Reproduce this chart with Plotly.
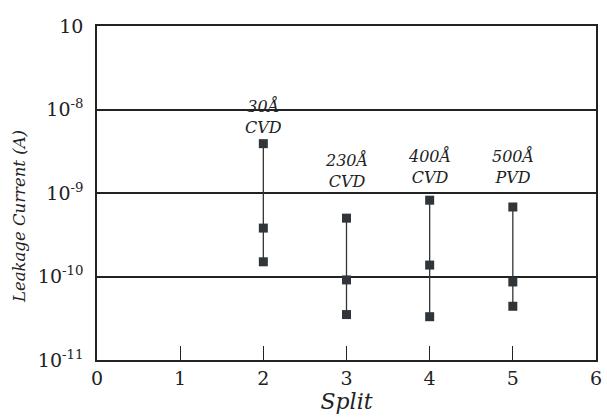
import numpy as np
import plotly.graph_objects as go

# Leakage current per split (A): high, middle and low readings
splits = [2, 3, 4, 5]
i_high = [3.9e-9, 5.0e-10, 8.2e-10, 6.8e-10]
i_mid = [3.8e-10, 9.1e-11, 1.37e-10, 8.6e-11]
i_low = [1.5e-10, 3.5e-11, 3.3e-11, 4.4e-11]
split_labels = ["30Å<br>CVD", "230Å<br>CVD", "400Å<br>CVD", "500Å<br>PVD"]
label_y = [0.730, 0.566, 0.578, 0.578]

y_tickvals = [1e-11, 1e-10, 1e-9, 1e-8, 1e-7]
y_ticktext = ["10<sup>-11</sup>", "10<sup>-10</sup>", "10<sup>-9</sup>", "10<sup>-8</sup>", "10"]
x_tickvals = [0, 1, 2, 3, 4, 5, 6]

FONT = "DejaVu Serif"
INK = "#222222"

fig = go.Figure()

for x, hi, mid, lo in zip(splits, i_high, i_mid, i_low):
    fig.add_trace(go.Scatter(
        x=[x, x, x], y=[hi, mid, lo],
        mode="lines+markers",
        line=dict(color="#333333", width=1.3),
        marker=dict(symbol="square", size=9, color="#2f3538",
                    line=dict(width=0)),
        showlegend=False,
    ))

for x, txt, yp in zip(splits, split_labels, label_y):
    fig.add_annotation(
        x=x, xref="x", y=yp, yref="paper",
        text=txt, showarrow=False,
        font=dict(family=FONT, size=16, color=INK, style="italic"),
        align="center", yanchor="middle",
    )

# vertical axis title
fig.add_annotation(
    x=-0.155, xref="paper", y=0.43, yref="paper",
    text="Leakage Current (A)", textangle=-90, showarrow=False,
    font=dict(family=FONT, size=16.5, color=INK, style="italic"),
    xanchor="center", yanchor="middle",
)

fig.update_xaxes(
    range=[0, 6], tickvals=x_tickvals, ticktext=[str(v) for v in x_tickvals],
    ticks="inside", ticklen=14, tickwidth=1.3, tickcolor=INK,
    showline=True, linecolor=INK, linewidth=1.5, mirror=True,
    showgrid=False, zeroline=False,
    tickfont=dict(family=FONT, size=19, color=INK),
    title=dict(text="Split", font=dict(family=FONT, size=22, color=INK, style="italic"),
               standoff=4),
)
fig.update_yaxes(
    type="log", range=[-11, -7],
    tickvals=y_tickvals, ticktext=y_ticktext,
    ticks="", showline=True, linecolor=INK, linewidth=1.5, mirror=True,
    showgrid=True, gridcolor=INK, gridwidth=1.5, zeroline=False,
    tickfont=dict(family=FONT, size=19, color=INK),
    ticklabelstandoff=8,
)

fig.update_layout(
    width=607, height=417,
    margin=dict(l=97, r=5, t=26, b=57),
    plot_bgcolor="white", paper_bgcolor="white",
)

fig.write_html("out.html")
